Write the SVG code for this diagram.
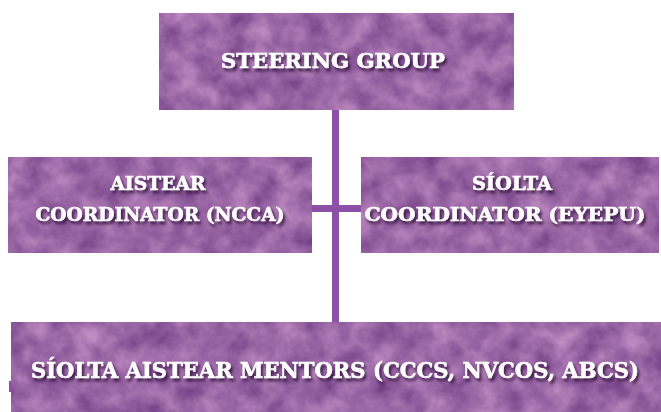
<svg xmlns="http://www.w3.org/2000/svg" width="661" height="412" viewBox="0 0 661 412">
  <defs>
    <filter id="tex" x="0" y="0" width="100%" height="100%" color-interpolation-filters="sRGB">
      <feTurbulence type="fractalNoise" baseFrequency="0.04" numOctaves="4" seed="7" result="n"/>
      <feColorMatrix in="n" type="matrix" values="0.38 0 0 0 0.415  0.38 0 0 0 0.215  0.3 0 0 0 0.5  0 0 0 0 1" result="c"/>
      <feComposite in="c" in2="SourceGraphic" operator="in"/>
    </filter>
    <filter id="shadow" x="-10%" y="-30%" width="120%" height="180%" color-interpolation-filters="sRGB">
      <feDropShadow dx="2" dy="3" stdDeviation="1.4" flood-color="#2e1036" flood-opacity="0.85"/>
    </filter>
  </defs>
  <style>
    .box { fill: #9a68a6; filter: url(#tex); }
    .lbl { font-family: "DejaVu Serif Condensed", "DejaVu Serif", "Liberation Serif", serif; font-stretch: condensed; font-weight: bold; fill: #ffffff; stroke: #ffffff; stroke-width: 0.6; text-anchor: middle; filter: url(#shadow); }
    .conn { fill: #8c50a8; }
  </style>
  <rect width="661" height="412" fill="#ffffff"/>
  <g id="connectors">
    <rect class="conn" x="332" y="108" width="7" height="216"/>
    <rect class="conn" x="310" y="205" width="53" height="7"/>
    <rect class="conn" x="9" y="381" width="3" height="11"/>
  </g>
  <g id="steering-group">
    <rect class="box" x="159" y="13" width="355" height="97"/>
    <text class="lbl" x="333" y="68" font-size="21" textLength="224" lengthAdjust="spacingAndGlyphs">STEERING GROUP</text>
  </g>
  <g id="aistear-coordinator">
    <rect class="box" x="8" y="157" width="304" height="96"/>
    <text class="lbl" x="158" y="190" font-size="19" textLength="95" lengthAdjust="spacingAndGlyphs">AISTEAR</text>
    <text class="lbl" x="160" y="221" font-size="19" textLength="249" lengthAdjust="spacingAndGlyphs">COORDINATOR (NCCA)</text>
  </g>
  <g id="siolta-coordinator">
    <rect class="box" x="361" y="157" width="298" height="96"/>
    <text class="lbl" x="512" y="190" font-size="19" textLength="80" lengthAdjust="spacingAndGlyphs">SÍOLTA</text>
    <text class="lbl" x="505" y="221" font-size="19" textLength="281" lengthAdjust="spacingAndGlyphs">COORDINATOR (EYEPU)</text>
  </g>
  <g id="mentors">
    <rect class="box" x="11" y="322" width="650" height="90"/>
    <text class="lbl" x="335" y="378" font-size="22.5" textLength="608" lengthAdjust="spacingAndGlyphs">SÍOLTA AISTEAR MENTORS (CCCS, NVCOS, ABCS)</text>
  </g>
</svg>
